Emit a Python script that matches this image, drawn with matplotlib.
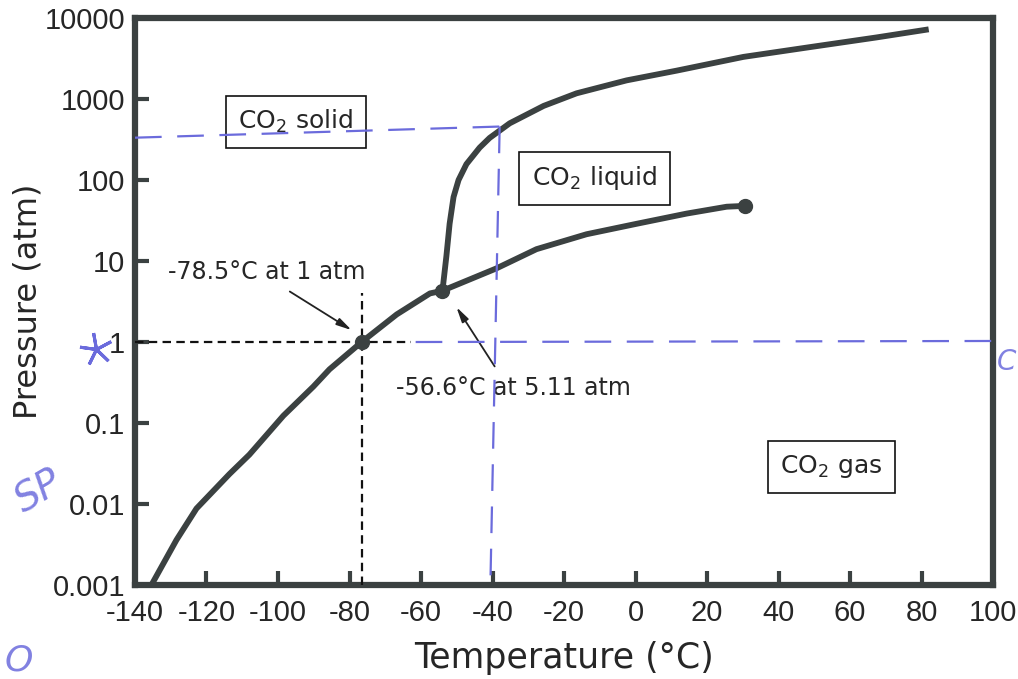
import matplotlib
matplotlib.use("Agg")
import matplotlib.pyplot as plt

plt.rcParams['axes.unicode_minus'] = False
plt.rcParams['font.family'] = ['DejaVu Sans']
plt.rcParams['mathtext.fontset'] = 'dejavusans'

# values: temperature (°C), pressure (atm)
sub_t = [-135.4, -128.4, -122.8, -113.6, -108.0, -98.5, -90.1, -85.6, -76.6, -66.8, -57.5, -54.0]
sub_p = [0.001, 0.0036, 0.0088, 0.0234, 0.0407, 0.123, 0.282, 0.46, 1.0, 2.19, 3.98, 4.3]

melt_t = [-54.0, -52.9, -52.0, -50.9, -49.5, -47.3, -43.6, -40.8, -38.0, -35.2,
          -25.7, -16.5, -2.5, 11.5, 30.2, 48.7, 67.4, 82.0]
melt_p = [4.3, 11.5, 28.8, 61.7, 100, 157, 251, 331, 407, 501,
          822, 1175, 1698, 2239, 3311, 4365, 5754, 7244]

vap_t = [-54.0, -38.9, -27.7, -13.7, 0.3, 14.3, 25.5, 30.5]
vap_p = [4.3, 8.11, 14.0, 21.4, 28.8, 38.5, 46.8, 47.9]

point_t = [-76.6, -54.0, 30.5]
point_p = [1.0, 4.3, 47.9]

# dashed guide lines
guide_h_t = [-140, -62.7]
guide_h_p = [1.0, 1.0]
guide_v_t = [-76.6, -76.6]
guide_v_p = [0.001, 4.0]

# hand-drawn blue lines
blue_top_t = [-140, -38.0]
blue_top_p = [333, 457]
blue_vert_t = [-38.0, -40.6]
blue_vert_p = [457, 0.001]
blue_one_t = [-61.5, 102]
blue_one_p = [1.0, 1.03]

xticks = [-140, -120, -100, -80, -60, -40, -20, 0, 20, 40, 60, 80, 100]
xticklabels = ['-140', '-120', '-100', '-80', '-60', '-40', '-20', '0', '20', '40', '60', '80', '100']
yticks = [0.001, 0.01, 0.1, 1, 10, 100, 1000, 10000]
yticklabels = ['0.001', '0.01', '0.1', '1', '10', '100', '1000', '10000']

dark = '#3b4141'
txt = '#262626'
blue = '#6b6bdc'

fig = plt.figure(figsize=(10.18, 6.79), dpi=100)
ax = fig.add_axes([0.1326, 0.1384, 0.8429, 0.8351])
ax.set_yscale('log')

# phase boundaries
for t, p in [(sub_t, sub_p), (melt_t, melt_p), (vap_t, vap_p)]:
    ax.plot(t, p, color=dark, lw=4.2, solid_capstyle='butt', solid_joinstyle='round', zorder=4)
ax.plot(point_t, point_p, 'o', color=dark, ms=10, zorder=5)

# black dashed guides
ax.plot(guide_h_t, guide_h_p, color='#111111', lw=1.6, ls=(0, (3.8, 2.4)), zorder=3)
ax.plot(guide_v_t, guide_v_p, color='#111111', lw=1.6, ls=(0, (3.8, 2.4)), zorder=3)

# region labels
box = dict(boxstyle='square,pad=0.5', fc='white', ec='#111111', lw=1.2)
ax.text(-95.1, 525, r'CO$_2$ solid', fontsize=18, color=txt, ha='center', va='center', bbox=box, zorder=6)
ax.text(-11.5, 105, r'CO$_2$ liquid', fontsize=18, color=txt, ha='center', va='center', bbox=box, zorder=6)
ax.text(54.8, 0.029, r'CO$_2$ gas', fontsize=18, color=txt, ha='center', va='center', bbox=box, zorder=6)

# annotations
ax.text(-103.2, 7.3, '-78.5°C at 1 atm', fontsize=17, color=txt, ha='center', va='center')
ax.text(-34.1, 0.27, '-56.6°C at 5.11 atm', fontsize=17, color=txt, ha='center', va='center')
arr = dict(arrowstyle='-|>,head_length=0.9,head_width=0.22', color='#222222', lw=1.3, shrinkA=0, shrinkB=0)
ax.annotate('', xy=(-79.4, 1.4), xytext=(-96.7, 4.2), arrowprops=arr, zorder=6)
ax.annotate('', xy=(-50.1, 2.7), xytext=(-39.4, 0.5), arrowprops=arr, zorder=6)

# blue pen marks
bls = (0, (12, 7))
ax.plot(blue_top_t, blue_top_p, color=blue, lw=1.6, ls=bls, zorder=7)
ax.plot(blue_vert_t, blue_vert_p, color=blue, lw=1.6, ls=bls, zorder=7)
ax.plot(blue_one_t, blue_one_p, color=blue, lw=1.6, ls=bls, zorder=7, clip_on=False)
ax.plot([-150.8], [0.82], marker=(5, 2, 10), ms=24, mew=2.2, color=blue, clip_on=False)
fig.text(0.008, 0.245, 'SP', fontsize=28, color=blue, rotation=30, fontstyle='italic', alpha=0.85)
fig.text(0.998, 0.455, 'C', fontsize=20, color=blue, fontstyle='italic', alpha=0.85, ha='right')
fig.text(0.004, 0.012, 'O', fontsize=26, color=blue, fontstyle='italic', alpha=0.85)

ax.set_xlim(-140, 100)
ax.set_ylim(0.001, 10000)
ax.set_xticks(xticks)
ax.set_xticklabels(xticklabels)
ax.set_yticks(yticks)
ax.set_yticklabels(yticklabels)
ax.minorticks_off()
for lab in ax.get_xticklabels() + ax.get_yticklabels():
    lab.set_family(['Liberation Sans', 'DejaVu Sans'])
    lab.set_fontsize(21)
    lab.set_color(txt)
ax.tick_params(direction='in', length=10, width=3, color=dark, top=False, right=False)
ax.tick_params(axis='x', pad=10)
ax.tick_params(axis='y', pad=7)
for s in ax.spines.values():
    s.set_linewidth(4.5)
    s.set_color(dark)

ax.set_xlabel('Temperature (°C)', fontsize=25, color=txt, labelpad=10)
ax.set_ylabel('Pressure (atm)', fontsize=23, color=txt, labelpad=1)

fig.savefig('out.png', dpi=100)
